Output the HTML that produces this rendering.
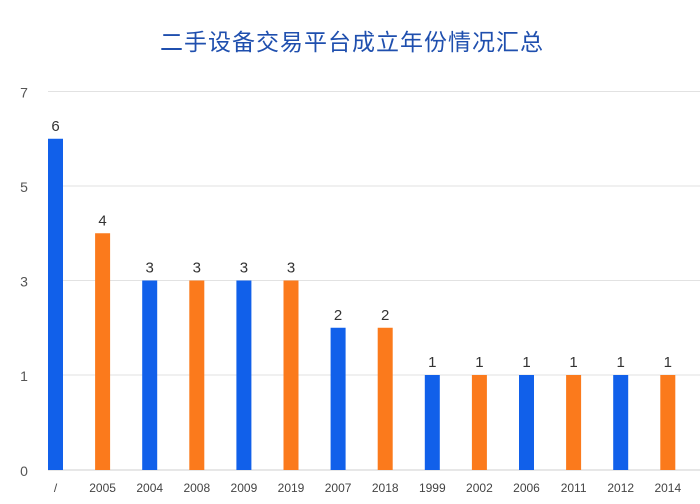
<!DOCTYPE html>
<html><head><meta charset="utf-8"><style>
body{margin:0;background:#fff;width:700px;height:499px;overflow:hidden;font-family:"Liberation Sans","Noto Sans CJK SC",sans-serif}
</style></head><body>
<svg id="chart" width="700" height="499" xmlns="http://www.w3.org/2000/svg">
<text x="352" y="50" text-anchor="middle" font-size="23" fill="#1f4fae" font-family="Noto Sans CJK SC, sans-serif" letter-spacing="1">二手设备交易平台成立年份情况汇总</text>
<g id="grid"></g><g id="bars"></g>
</svg>
<script>
const categories=["/","2005","2004","2008","2009","2019","2007","2018","1999","2002","2006","2011","2012","2014"];
const values=[6,4,3,3,3,3,2,2,1,1,1,1,1,1];
const tickLabels=[0,1,3,5,7];
const NS="http://www.w3.org/2000/svg";
function y(v){return v<=1?470-95*v:375-47.25*(v-1);}
function x(i){return 55.5+47.1*i;}
const grid=document.getElementById('grid'),bars=document.getElementById('bars');
function mk(tag,attrs,parent){const e=document.createElementNS(NS,tag);for(const k in attrs)e.setAttribute(k,attrs[k]);parent.appendChild(e);return e;}
tickLabels.forEach(t=>{
 const l=mk('line',{x1:48,x2:700,y1:y(t),y2:y(t),stroke:t===0?'#cfcfcf':'#e2e2e2','stroke-width':1},grid);
 
 
 const tx=mk('text',{x:24,y:y(t)+6,'text-anchor':'middle','font-size':14,fill:'#555'},grid);
 tx.textContent=t;
 
 
});
categories.forEach((c,i)=>{
 const v=values[i];
 const r=mk('rect',{x:x(i)-7.5,y:y(v),width:15,height:470-y(v),fill:i%2?'#fb7a1c':'#1160ea'},bars);
 
 
 const vl=mk('text',{x:x(i),y:y(v)-8,'text-anchor':'middle','font-size':15,fill:'#333'},bars);
 vl.textContent=v;
 
 
 const cl=mk('text',{x:x(i),y:492,'text-anchor':'middle','font-size':12,fill:'#444'},bars);
 cl.textContent=c;
 
 
});
</script>
</body></html>
